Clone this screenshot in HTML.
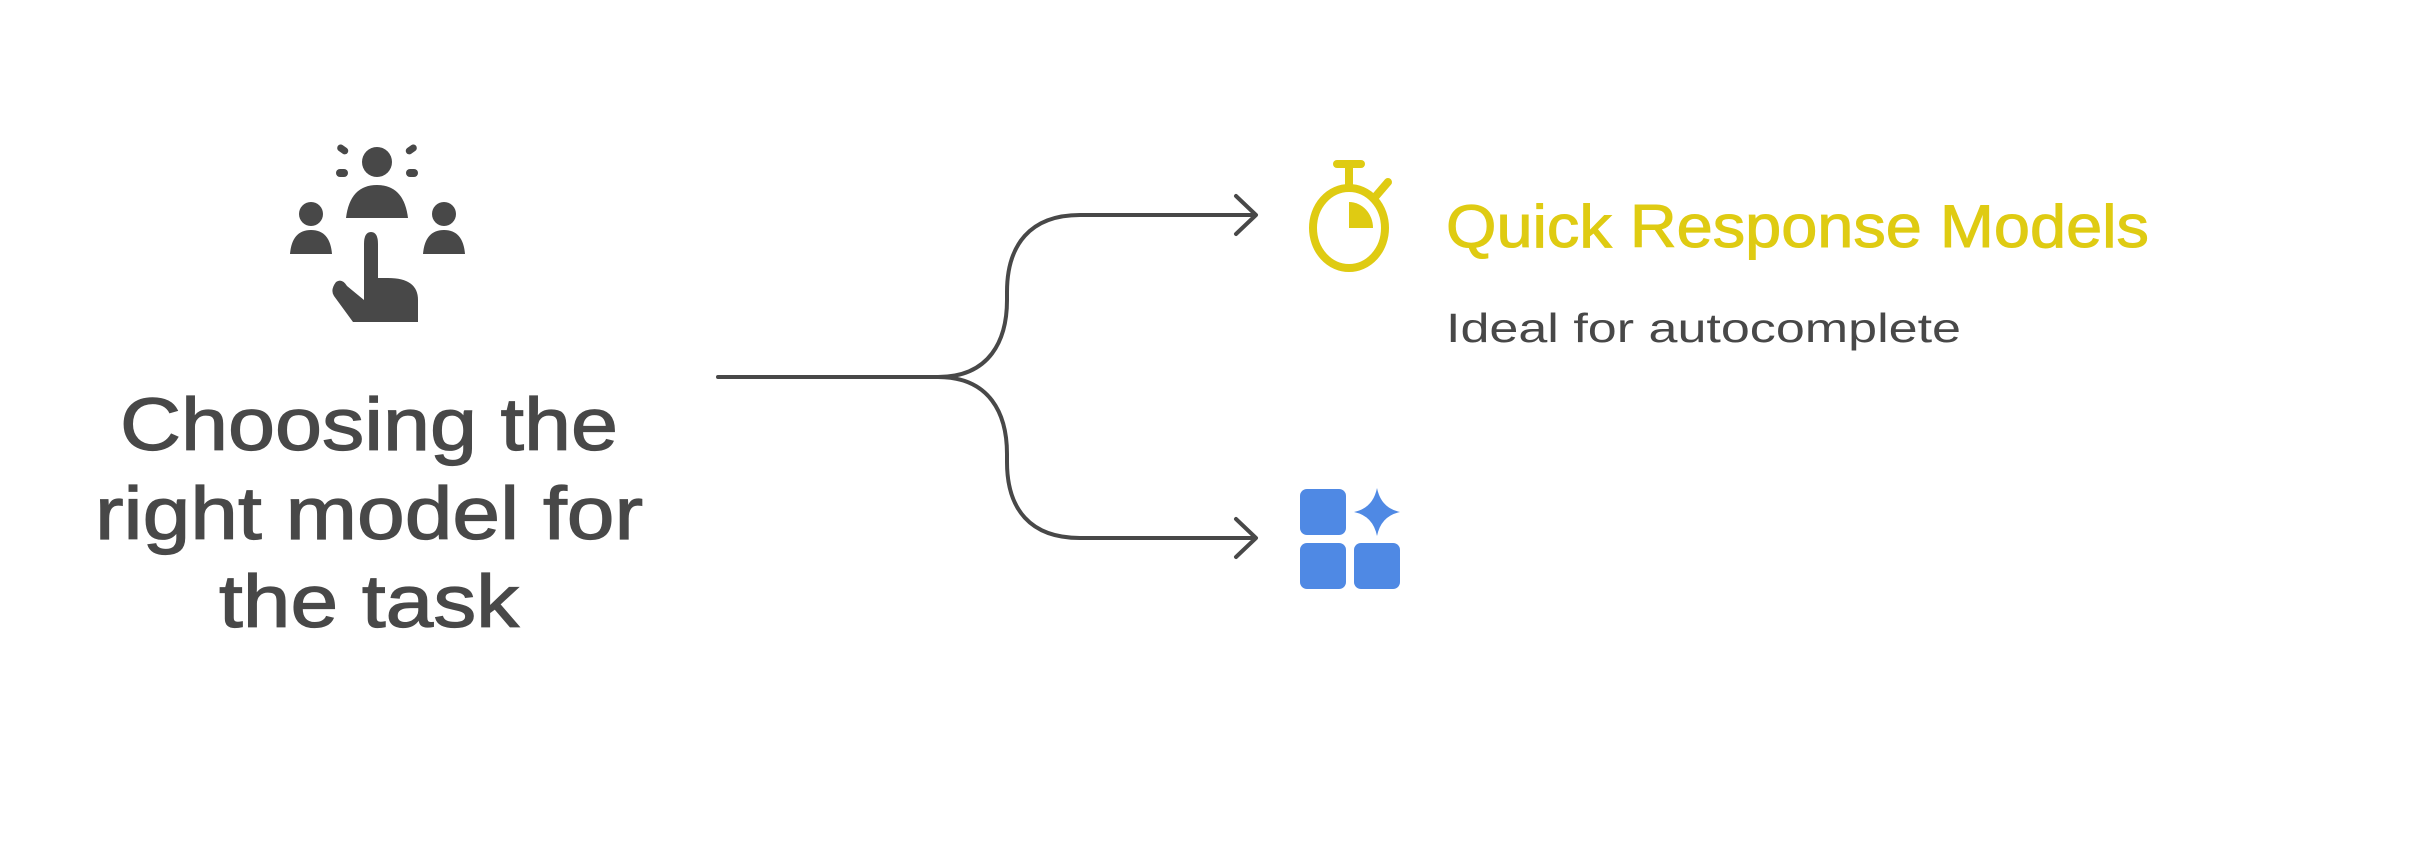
<!DOCTYPE html>
<html><head><meta charset="utf-8"><style>html,body{margin:0;padding:0;background:#fff;}svg{display:block}</style></head>
<body>
<svg width="2412" height="864" viewBox="0 0 2412 864" xmlns="http://www.w3.org/2000/svg">
<rect width="2412" height="864" fill="#fff"/>
<!-- connectors -->
<g fill="none" stroke="#484848" stroke-width="4" stroke-linecap="round" stroke-linejoin="round">
<path d="M718 377 H938 C990 377 1007 340 1007 300 V292 C1007 245 1030 215 1080 215 H1254"/>
<path d="M938 377 C990 377 1007 414 1007 454 V462 C1007 509 1030 538 1080 538 H1254"/>
<path d="M1236 196 L1256 215 L1236 234"/>
<path d="M1236 519 L1256 538 L1236 557"/>
</g>
<!-- people icon -->
<g fill="#484848">
<circle cx="377" cy="162" r="15"/>
<path d="M346 218 Q350 185 377 185 Q404 185 408 218 Z"/>
<circle cx="311" cy="214" r="12"/>
<path d="M290 254 Q292 230 311 230 Q330 230 332 254 Z"/>
<circle cx="444" cy="214" r="12"/>
<path d="M423 254 Q425 230 444 230 Q463 230 465 254 Z"/>
<rect x="336" y="169" width="12" height="8" rx="4"/>
<rect x="406" y="169" width="12" height="8" rx="4"/>
<rect x="337" y="146" width="12" height="7" rx="3.5" transform="rotate(35 343 149)"/>
<rect x="405" y="146" width="12" height="7" rx="3.5" transform="rotate(-35 411 149)"/>
<path d="M364 244 Q364 232 371 232 Q378 232 378 244 V278 H388 Q418 278 418 300 V322 H353 L334 296 Q330 290 336 282 Q342 278 347 286 L364 300 Z"/>
</g>
<!-- left text -->
<g font-family="Liberation Sans, sans-serif" font-size="74" fill="#484848" stroke="#484848" stroke-width="1.2" text-anchor="middle">
<text x="369" y="450" textLength="498" lengthAdjust="spacingAndGlyphs">Choosing the</text>
<text x="369" y="539" textLength="548" lengthAdjust="spacingAndGlyphs">right model for</text>
<text x="369" y="627" textLength="300" lengthAdjust="spacingAndGlyphs">the task</text>
</g>
<!-- stopwatch -->
<g fill="none" stroke="#DFCB12" stroke-width="8" stroke-linecap="round">
<ellipse cx="1349" cy="228" rx="36" ry="40"/>
<line x1="1349" y1="188" x2="1349" y2="168"/>
<line x1="1337" y1="164" x2="1361" y2="164"/>
<line x1="1376" y1="196" x2="1388" y2="182"/>
</g>
<path d="M1349 202 A24 26 0 0 1 1373 228 H1349 Z" fill="#DFCB12"/>
<!-- blue icon -->
<g fill="#4F89E4">
<rect x="1300" y="489" width="46" height="46" rx="7"/>
<rect x="1300" y="543" width="46" height="46" rx="7"/>
<rect x="1354" y="543" width="46" height="46" rx="7"/>
<path d="M1377 488 Q1381 508 1400 512 Q1381 516 1377 536 Q1373 516 1354 512 Q1373 508 1377 488 Z"/>
</g>
<!-- right text -->
<text x="1446" y="247" font-family="Liberation Sans, sans-serif" font-size="60" fill="#DFCB12" stroke="#DFCB12" stroke-width="1" textLength="703" lengthAdjust="spacingAndGlyphs">Quick Response Models</text>
<text x="1446" y="342" font-family="Liberation Sans, sans-serif" font-size="41" fill="#484848" textLength="515" lengthAdjust="spacingAndGlyphs">Ideal for autocomplete</text>
</svg>
</body></html>
